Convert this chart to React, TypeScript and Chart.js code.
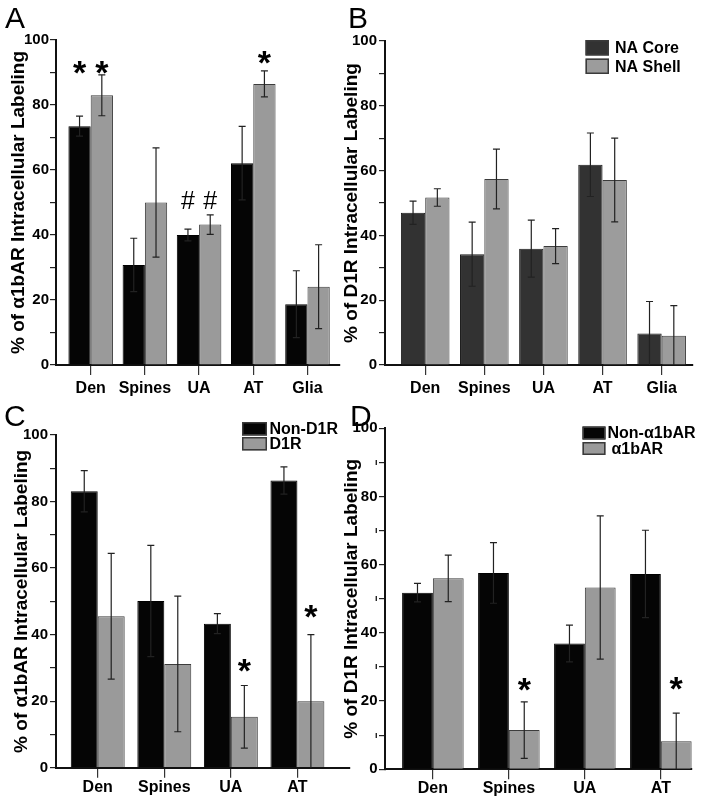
import React, { useEffect, useRef } from 'react';
import { Chart, registerables } from 'chart.js';

Chart.register(...registerables);

const FONT = '"Liberation Sans", Arial, Helvetica, sans-serif';

// ---------- data ----------
const regionsAB = ['Den', 'Spines', 'UA', 'AT', 'Glia'];
const regionsCD = ['Den', 'Spines', 'UA', 'AT'];

const yMajorLabels = [0, 20, 40, 60, 80, 100];
const yMinorTicks = [10, 30, 50, 70, 90];

// Panel A: % of α1bAR intracellular labeling, NA core vs NA shell
const aCoreMean = [73.5, 30.8, 40.0, 62.1, 18.7];
const aCoreErr = [3.1, 8.2, 1.8, 11.3, 10.3];
const aShellMean = [83.0, 50.0, 43.2, 86.5, 24.1];
const aShellErr = [6.3, 16.8, 3.0, 4.0, 12.9];

// Panel B: % of D1R intracellular labeling, NA core vs NA shell
const bCoreMean = [47.0, 34.2, 35.9, 61.8, 9.7];
const bCoreErr = [3.6, 9.9, 8.8, 9.8, 9.9];
const bShellMean = [51.7, 57.4, 36.7, 57.1, 9.0];
const bShellErr = [2.7, 9.2, 5.4, 12.9, 9.3];

// Panel C: % of α1bAR intracellular labeling, Non-D1R vs D1R
const cNonMean = [83.1, 50.1, 43.3, 86.3];
const cNonErr = [6.2, 16.7, 3.0, 4.1];
const cD1Mean = [45.5, 31.2, 15.3, 20.0];
const cD1Err = [18.9, 20.4, 9.4, 20.0];

// Panel D: % of D1R intracellular labeling, Non-α1bAR vs α1bAR
const dNonMean = [51.8, 57.6, 36.9, 57.3];
const dNonErr = [2.7, 8.9, 5.4, 12.8];
const dA1Mean = [56.0, 11.5, 53.3, 8.2];
const dA1Err = [6.8, 8.3, 21.0, 8.3];

// significance marks: series index, category index, symbol, height (in % units)
const aMarks = [
  { s: 0, i: 0, t: '*', at: 91.5 },
  { s: 1, i: 0, t: '*', at: 91.5 },
  { s: 0, i: 2, t: '#', at: 50.8 },
  { s: 1, i: 2, t: '#', at: 50.8 },
  { s: 1, i: 3, t: '*', at: 94.5 },
];
const cMarks = [
  { s: 1, i: 2, t: '*', at: 30.7 },
  { s: 1, i: 3, t: '*', at: 47.0 },
];
const dMarks = [
  { s: 1, i: 1, t: '*', at: 25.0 },
  { s: 1, i: 3, t: '*', at: 25.3 },
];

// ---------- panel layout ----------
const BLACK = '#050505';
const GREY = '#9a9a9a';
const DARK = '#323232';

type Series = { label: string; mean: number[]; err: number[]; color: string; border: string };
type Mark = { s: number; i: number; t: string; at: number };
type PanelCfg = {
  letter: string;
  letterX: number;
  letterY: number;
  left: number;
  top: number;
  width: number;
  height: number;
  area: { left: number; right: number; top: number; bottom: number };
  xMin: number;
  xMax: number;
  catPct: number;
  labels: string[];
  series: Series[];
  yTitle: string;
  titleCenter: number;
  xLabelPad: number;
  yLabelPad: number;
  minorLabel: string;
  marks: Mark[];
  legend: null | { x: number; y: number; w: number; h: number; gap: number; textX: number; indent: number[] };
};

const panels: PanelCfg[] = [
  {
    letter: 'A', letterX: 5, letterY: 28,
    left: 0, top: 0, width: 345, height: 400,
    area: { left: 56, right: 340, top: 40, bottom: 365 },
    xMin: -0.64, xMax: 4.6, catPct: 0.822,
    labels: regionsAB,
    series: [
      { label: 'NA Core', mean: aCoreMean, err: aCoreErr, color: BLACK, border: '#000' },
      { label: 'NA Shell', mean: aShellMean, err: aShellErr, color: GREY, border: '#3c3c3c' },
    ],
    yTitle: '% of α1bAR Intracellular Labeling', titleCenter: 19,
    xLabelPad: 4, yLabelPad: 1, minorLabel: '',
    marks: aMarks, legend: null,
  },
  {
    letter: 'B', letterX: 348, letterY: 28,
    left: 340, top: 0, width: 364, height: 400,
    area: { left: 385, right: 693, top: 41, bottom: 365 },
    xMin: -0.68, xMax: 4.53, catPct: 0.822,
    labels: regionsAB,
    series: [
      { label: 'NA Core', mean: bCoreMean, err: bCoreErr, color: DARK, border: '#1a1a1a' },
      { label: 'NA Shell', mean: bShellMean, err: bShellErr, color: '#9c9c9c', border: '#3c3c3c' },
    ],
    yTitle: '% of D1R Intracellular Labeling', titleCenter: 352,
    xLabelPad: 4, yLabelPad: 2, minorLabel: '',
    marks: [], legend: { x: 585.5, y: 40, w: 23.5, h: 15.5, gap: 3, textX: 615, indent: [0, 0] },
  },
  {
    letter: 'C', letterX: 4, letterY: 426,
    left: 0, top: 400, width: 352, height: 403,
    area: { left: 56, right: 350, top: 435, bottom: 767.7 },
    xMin: -0.627, xMax: 3.79, catPct: 0.81,
    labels: regionsCD,
    series: [
      { label: 'Non-D1R', mean: cNonMean, err: cNonErr, color: BLACK, border: '#000' },
      { label: 'D1R', mean: cD1Mean, err: cD1Err, color: GREY, border: '#3c3c3c' },
    ],
    yTitle: '% of α1bAR Intracellular Labeling', titleCenter: 22,
    xLabelPad: 0, yLabelPad: 2, minorLabel: '',
    marks: cMarks, legend: { x: 242, y: 422, w: 25, h: 13.5, gap: 1.5, textX: 269.5, indent: [0, 0] },
  },
  {
    letter: 'D', letterX: 350, letterY: 426,
    left: 340, top: 400, width: 364, height: 403,
    area: { left: 385, right: 692, top: 428.3, bottom: 769.3 },
    xMin: -0.63, xMax: 3.41, catPct: 0.81,
    labels: regionsCD,
    series: [
      { label: 'Non-α1bAR', mean: dNonMean, err: dNonErr, color: BLACK, border: '#000' },
      { label: 'α1bAR', mean: dA1Mean, err: dA1Err, color: GREY, border: '#3c3c3c' },
    ],
    yTitle: '% of D1R Intracellular Labeling', titleCenter: 352,
    xLabelPad: 0, yLabelPad: 1.5, minorLabel: 'ı',
    marks: dMarks, legend: { x: 582.5, y: 426.5, w: 23, h: 13, gap: 2.5, textX: 607.5, indent: [0, 4] },
  },
];

function PanelChart({ cfg }: { cfg: PanelCfg }) {
  const ref = useRef<HTMLCanvasElement>(null);

  useEffect(() => {
    const canvas = ref.current;
    if (!canvas) return;

    const overlay = {
      id: 'overlay' + cfg.letter,
      afterDatasetsDraw(chart: any) {
        const ctx = chart.ctx as CanvasRenderingContext2D;
        const ys = chart.scales.y;
        // error bars
        cfg.series.forEach((s, di) => {
          const meta = chart.getDatasetMeta(di);
          meta.data.forEach((el: any, i: number) => {
            const v = s.mean[i];
            const e = s.err[i];
            const x = el.x;
            const yTop = ys.getPixelForValue(v + e);
            const low = v - e;
            const yBot = ys.getPixelForValue(Math.max(low, 0));
            ctx.save();
            ctx.strokeStyle = '#222';
            ctx.lineWidth = 1.2;
            ctx.beginPath();
            ctx.moveTo(x, yTop);
            ctx.lineTo(x, yBot);
            ctx.moveTo(x - 3.5, yTop);
            ctx.lineTo(x + 3.5, yTop);
            if (low > 0.5) {
              ctx.moveTo(x - 3.5, yBot);
              ctx.lineTo(x + 3.5, yBot);
            }
            ctx.stroke();
            ctx.restore();
          });
        });
        // significance marks
        cfg.marks.forEach((m) => {
          const el = chart.getDatasetMeta(m.s).data[m.i];
          const cx = el.x;
          const cy = ys.getPixelForValue(m.at);
          ctx.save();
          ctx.fillStyle = '#000';
          ctx.font = m.t === '*' ? `bold 34px ${FONT}` : `25px ${FONT}`;
          ctx.textAlign = 'center';
          ctx.textBaseline = 'alphabetic';
          const tm = ctx.measureText(m.t);
          const asc = tm.actualBoundingBoxAscent;
          const desc = tm.actualBoundingBoxDescent;
          ctx.fillText(m.t, cx, cy + (asc - desc) / 2);
          ctx.restore();
        });
        // legend
        const L = cfg.legend;
        if (L) {
          cfg.series.forEach((s, k) => {
            const bx = L.x - cfg.left;
            const by = L.y - cfg.top + k * (L.h + L.gap);
            ctx.save();
            ctx.fillStyle = s.color;
            ctx.fillRect(bx, by, L.w, L.h);
            ctx.strokeStyle = '#3a3a3a';
            ctx.lineWidth = 1.5;
            ctx.strokeRect(bx + 0.75, by + 0.75, L.w - 1.5, L.h - 1.5);
            ctx.fillStyle = '#000';
            ctx.font = `bold 16px ${FONT}`;
            ctx.textAlign = 'left';
            ctx.textBaseline = 'middle';
            ctx.fillText(s.label, L.textX - cfg.left + L.indent[k], by + L.h / 2 + 1);
            ctx.restore();
          });
        }
        // panel letter
        ctx.save();
        ctx.fillStyle = '#000';
        ctx.font = `30px ${FONT}`;
        ctx.textAlign = 'left';
        ctx.textBaseline = 'alphabetic';
        ctx.fillText(cfg.letter, cfg.letterX - cfg.left, cfg.letterY - cfg.top);
        ctx.restore();
      },
    };

    const titleSize = 19;
    const chart = new Chart(canvas, {
      type: 'bar',
      data: {
        datasets: cfg.series.map((s) => ({
          label: s.label,
          data: s.mean.map((m, i) => ({ x: i, y: m })),
          backgroundColor: s.color,
          borderColor: s.border,
          borderWidth: 1,
          categoryPercentage: cfg.catPct,
          barPercentage: 1,
        })),
      },
      options: {
        responsive: false,
        animation: false,
        layout: {
          padding: {
            left: 0,
            top: cfg.area.top - cfg.top,
            right: cfg.left + cfg.width - cfg.area.right,
            bottom: 0,
          },
        },
        plugins: {
          legend: { display: false },
          tooltip: { enabled: false },
        },
        scales: {
          x: {
            type: 'linear',
            offset: false,
            min: cfg.xMin,
            max: cfg.xMax,
            afterBuildTicks: (s: any) => {
              s.ticks = cfg.labels.map((_, i) => ({ value: i }));
            },
            afterFit: (s: any) => {
              s.height = cfg.top + cfg.height - cfg.area.bottom;
            },
            ticks: {
              autoSkip: false,
              maxRotation: 0,
              padding: cfg.xLabelPad,
              color: '#000',
              font: { family: FONT, size: 16, weight: 'bold' },
              callback: (v: any) => cfg.labels[Math.round(Number(v))] ?? '',
            },
            grid: { offset: false, drawOnChartArea: false, drawTicks: true, tickLength: 10, color: '#333', lineWidth: 1.2 },
            border: { display: true, color: '#111', width: 2 },
          },
          y: {
            min: 0,
            max: 100,
            afterBuildTicks: (s: any) => {
              s.ticks = [...yMajorLabels, ...yMinorTicks].sort((a, b) => a - b).map((v) => ({ value: v }));
            },
            afterFit: (s: any) => {
              s.width = cfg.area.left - cfg.left;
            },
            ticks: {
              autoSkip: false,
              padding: cfg.yLabelPad,
              color: '#000',
              font: (c: any) => ({
                family: FONT,
                size: c.tick && yMajorLabels.includes(c.tick.value) ? 15 : 9,
                weight: 'bold',
              }),
              callback: (v: any) => (yMajorLabels.includes(Number(v)) ? String(v) : cfg.minorLabel),
            },
            grid: { drawOnChartArea: false, drawTicks: true, tickLength: 6, color: '#222', lineWidth: 1.2 },
            border: { display: true, color: '#111', width: 2 },
            title: {
              display: true,
              text: cfg.yTitle,
              color: '#000',
              font: { family: FONT, size: titleSize, weight: 'bold', lineHeight: 1 },
              padding: { top: cfg.titleCenter - cfg.left - titleSize / 2, bottom: 0 },
            },
          },
        },
      } as any,
      plugins: [overlay],
    });

    return () => chart.destroy();
  }, [cfg]);

  return (
    <canvas
      ref={ref}
      width={cfg.width}
      height={cfg.height}
      style={{ position: 'absolute', left: cfg.left, top: cfg.top, width: cfg.width, height: cfg.height }}
    />
  );
}

export default function App() {
  return (
    <div style={{ position: 'absolute', left: 0, top: 0, width: 704, height: 803, background: '#fff', overflow: 'hidden' }}>
      {panels.map((p) => (
        <PanelChart key={p.letter} cfg={p} />
      ))}
    </div>
  );
}
